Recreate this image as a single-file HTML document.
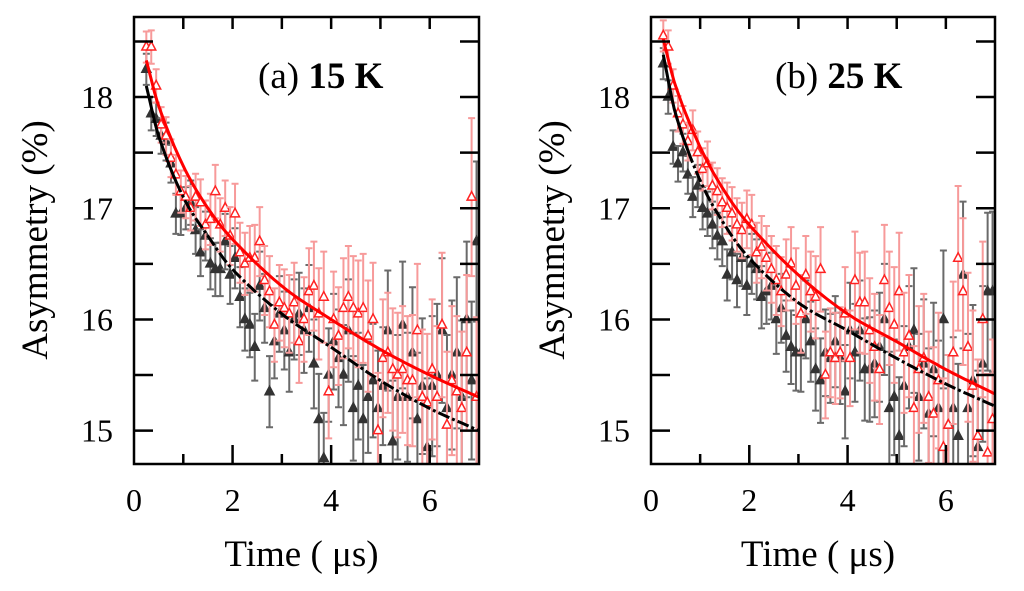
<!DOCTYPE html>
<html><head><meta charset="utf-8"><style>
body{margin:0;background:#fff;width:1024px;height:586px;overflow:hidden}
svg text{font-family:"Liberation Serif",serif;fill:#000}
</style></head><body>
<svg id="chart" width="1024" height="586" viewBox="0 0 1024 586"></svg>
<script>
const times=[0.25,0.35,0.45,0.55,0.65,0.75,0.85,0.95,1.05,1.15,1.25,1.35,1.45,1.55,1.65,1.75,1.85,1.95,2.05,2.15,2.25,2.35,2.45,2.55,2.65,2.75,2.85,2.95,3.05,3.15,3.25,3.35,3.45,3.55,3.65,3.75,3.85,3.95,4.05,4.15,4.25,4.35,4.45,4.55,4.65,4.75,4.85,4.95,5.05,5.15,5.25,5.35,5.45,5.55,5.65,5.75,5.85,5.95,6.05,6.15,6.25,6.35,6.45,6.55,6.65,6.75,6.85,6.95];
const errs=[0.14,0.15,0.15,0.16,0.17,0.17,0.18,0.19,0.19,0.2,0.21,0.21,0.22,0.23,0.24,0.24,0.25,0.26,0.27,0.27,0.28,0.29,0.3,0.31,0.31,0.32,0.33,0.34,0.35,0.35,0.36,0.37,0.38,0.39,0.4,0.41,0.41,0.42,0.43,0.44,0.45,0.46,0.47,0.48,0.49,0.5,0.51,0.52,0.53,0.54,0.55,0.56,0.57,0.58,0.59,0.6,0.61,0.62,0.63,0.64,0.65,0.66,0.67,0.68,0.69,0.7,0.71,0.72];
const leftBlack=[18.25,17.85,17.8,17.65,17.6,17.4,16.95,16.95,17.0,17.05,16.8,16.6,16.75,16.5,16.45,16.45,16.7,16.4,16.55,16.2,16.0,15.95,15.75,16.3,16.1,15.35,15.8,16.05,15.9,15.7,16.0,16.05,15.9,16.1,15.6,15.1,14.75,15.5,15.8,15.65,15.5,15.9,15.2,15.4,15.1,15.3,15.45,15.2,15.4,15.9,14.9,15.3,15.95,15.3,15.7,15.1,15.4,14.85,15.4,15.5,15.9,15.2,15.5,15.7,15.3,16.0,15.45,16.7];
const leftRed=[18.45,18.45,18.1,17.75,17.65,17.45,17.3,17.15,17.1,17.0,17.1,17.05,16.85,16.9,17.15,16.85,17.0,16.75,16.95,16.6,16.5,16.55,16.55,16.7,16.35,16.25,15.95,16.15,16.1,16.05,16.15,15.8,16.0,16.25,16.3,16.05,16.2,15.35,16.0,15.85,16.1,16.2,16.1,16.05,16.1,15.85,16.0,15.0,15.65,15.7,15.55,15.5,15.55,15.45,15.45,15.9,15.3,15.25,15.55,15.3,15.95,15.05,15.45,15.35,15.2,15.7,17.1,15.3];
const rightBlack=[18.3,18.0,17.55,17.4,17.5,17.3,17.1,17.2,17.0,16.95,16.85,16.75,16.7,16.4,16.6,16.35,16.55,16.3,16.5,16.45,16.2,16.25,16.3,16.0,16.1,15.85,15.75,15.7,15.7,16.0,15.8,15.55,15.45,15.7,15.65,15.8,15.65,15.35,15.9,15.7,15.9,15.55,15.55,15.6,15.75,16.0,15.2,15.3,14.95,15.4,15.75,15.9,15.3,15.6,15.15,15.55,15.2,16.0,15.05,15.2,14.95,16.4,15.2,15.45,14.85,15.6,16.25,16.25];
const rightRed=[18.55,18.45,18.1,17.85,17.75,17.6,17.7,17.5,17.35,17.4,17.2,17.15,17.05,17.0,16.95,16.85,16.8,16.9,16.85,16.6,16.65,16.55,16.45,16.35,16.25,16.4,16.5,16.3,16.05,16.4,16.25,16.2,16.45,15.5,15.7,15.65,15.7,16.05,15.65,16.35,16.15,16.15,15.9,15.75,15.55,16.35,16.1,15.95,16.25,15.7,15.85,15.2,15.55,15.65,15.3,15.15,15.45,14.85,15.05,15.7,16.55,16.25,15.75,15.4,14.95,16.0,14.8,15.1];
const fitT=[0.25,0.5,1,1.5,2,3,4,5,6,7];
const leftFitRed=[18.33,17.92,17.38,17.0,16.72,16.3,16.0,15.73,15.5,15.3];
const leftFitBlack=[18.1,17.65,17.1,16.75,16.45,16.05,15.75,15.45,15.2,15.0];
const rightFitRed=[18.52,18.1,17.55,17.15,16.85,16.4,16.05,15.8,15.55,15.33];
const rightFitBlack=[18.38,17.85,17.25,16.85,16.55,16.15,15.9,15.65,15.42,15.22];
const yTicks=[15,16,17,18];
const xTicks=[0,2,4,6];

const NS='http://www.w3.org/2000/svg';
const svg=document.getElementById('chart');
function mk(tag,attrs,parent){const e=document.createElementNS(NS,tag);for(const k in attrs)e.setAttribute(k,attrs[k]);(parent||svg).appendChild(e);return e;}

function panel(id,x0,x1,title1,title2,blk,red,fB,fR){
  const top=17,bot=464,yMin=14.7,yMax=18.72;
  const sx=t=>x0+(x1-x0)*t/7;
  const sy=v=>bot-(bot-top)*(v-yMin)/(yMax-yMin);
  const g=mk('g',{});
  
  
  const cpEl=mk('clipPath',{id:id+'clip'},g);
  mk('rect',{x:x0,y:top,width:x1-x0,height:bot-top},cpEl);
  const plot=mk('g',{'clip-path':'url(#'+id+'clip)'},g);
  
  
  function series(vals,color,barColor,filled,name){
    const sg=mk('g',{},plot);
    
    
    vals.forEach((v,i)=>{
      const x=sx(times[i]),y=sy(v),e=errs[i];
      const y1=sy(v+e),y2=sy(v-e);
      const b=mk('path',{d:`M${x},${y1}V${y2}M${x-3.5},${y1}H${x+3.5}M${x-3.5},${y2}H${x+3.5}`,stroke:barColor,'stroke-width':2,fill:'none'},sg);
      
      
      const m=mk('path',{d:`M${x},${y-5.5}L${x+4.5},${y+3}L${x-4.5},${y+3}Z`,fill:filled?color:'#fff','stroke':color,'stroke-width':1.5},sg);
      
      
    });
  }
  series(blk,'#333','#6a6a6a',true,id+'-series-black');
  series(red,'#f22','#f79a9a',false,id+'-series-red');
  function interp(vals,t){
    let j=0;while(j<fitT.length-2&&t>fitT[j+1])j++;
    const p0=vals[Math.max(j-1,0)],p1=vals[j],p2=vals[j+1],p3=vals[Math.min(j+2,vals.length-1)];
    const a=fitT[j],b=fitT[j+1],f=(t-a)/(b-a);
    const ta=fitT[Math.max(j-1,0)],tb=fitT[Math.min(j+2,fitT.length-1)];
    const m1=(p2-p0)/(b-ta)*(b-a), m2=(p3-p1)/(tb-a)*(b-a);
    const f2=f*f,f3=f2*f;
    return (2*f3-3*f2+1)*p1+(f3-2*f2+f)*m1+(-2*f3+3*f2)*p2+(f3-f2)*m2;
  }
  function fit(vals,color,dash,name){
    let d='';
    const n=120;
    for(let k=0;k<=n;k++){
      const t=fitT[0]+(fitT[fitT.length-1]-fitT[0])*k/n;
      const v=interp(vals,t);
      d+=(k?'L':'M')+sx(t).toFixed(1)+','+sy(v).toFixed(1);
    }
    const p=mk('path',{d,stroke:color,'stroke-width':3,fill:'none','stroke-dasharray':dash},plot);
    
    
  }
  let dash='100,0';for(let i=0;i<40;i++)dash+=',12,3,3,3';
  fit(fB,'#000',dash,id+'-fit-black');
  fit(fR,'#f00','none',id+'-fit-red');
  const fr=mk('rect',{x:x0,y:top,width:x1-x0,height:bot-top,fill:'none',stroke:'#000','stroke-width':2.5},g);
  
  
  let tk='';
  for(let t=1;t<7;t++){const x=sx(t);tk+=`M${x},${top}V${top+12}`;tk+=`M${x},${bot}V${bot-(t%2==0?19:10)}`;}
  for(let v=15;v<=18.5;v+=0.5){const y=sy(v);tk+=`M${x0},${y}H${x0+19}M${x1},${y}H${x1-19}`;}
  const tp=mk('path',{d:tk,stroke:'#000','stroke-width':2.5},g);
  
  
  yTicks.forEach(v=>{const t=mk('text',{x:x0-21,y:sy(v)+11,'font-size':32,'text-anchor':'end'},g);t.textContent=v;
    });
  xTicks.forEach(v=>{const t=mk('text',{x:sx(v),y:511,'font-size':32,'text-anchor':'middle'},g);t.textContent=v;
    });
  const xt=mk('text',{x:(x0+x1)/2-5,y:566,'font-size':37,'text-anchor':'middle'},g);xt.textContent='Time ( \u03bcs)';
  
  const yt=mk('text',{x:0,y:0,'font-size':37,'text-anchor':'middle',transform:`translate(${x0-87},${240}) rotate(-90)`},g);yt.textContent='Asymmetry (%)';
  
  const tt=mk('text',{x:x0+124,y:88,'font-size':37},g);
  
  const s1=mk('tspan',{},tt);s1.textContent=title1+' ';
  const s2=mk('tspan',{'font-weight':'bold'},tt);s2.textContent=title2;
}
panel('panel-a',134,479,'(a)','15 K',leftBlack,leftRed,leftFitBlack,leftFitRed);
panel('panel-b',651,995,'(b)','25 K',rightBlack,rightRed,rightFitBlack,rightFitRed);
</script>
</body></html>
